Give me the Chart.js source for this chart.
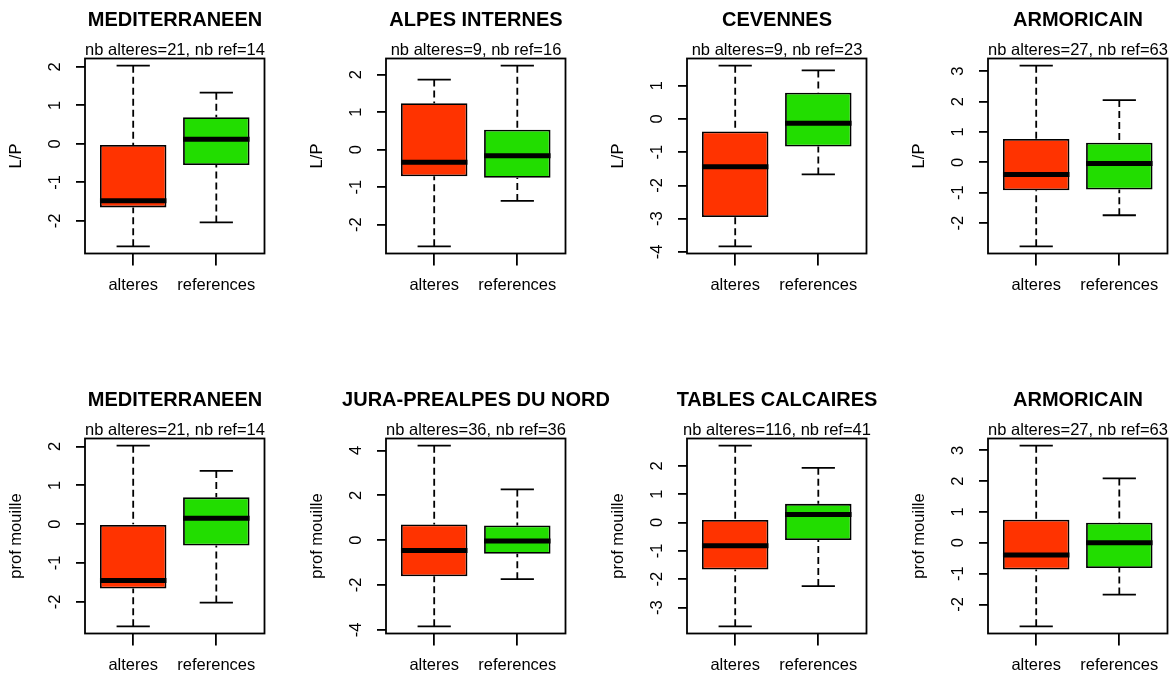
<!DOCTYPE html>
<html>
<head>
<meta charset="utf-8">
<script src="https://cdn.jsdelivr.net/npm/chart.js@4.4.0/dist/chart.umd.min.js"></script>
<style>
  body { margin: 0; background: #fff; }
  #wrap { position: relative; width: 1173px; height: 678px; overflow: hidden; background: #fff; }
  #wrap canvas { position: absolute; }
</style>
</head>
<body>
<div id="wrap"></div>
<script>
// groups on the x axis
const categories = ["alteres", "references"];

// one entry per panel, row by row
const titles = ["MEDITERRANEEN", "ALPES INTERNES", "CEVENNES", "ARMORICAIN",
                "MEDITERRANEEN", "JURA-PREALPES DU NORD", "TABLES CALCAIRES", "ARMORICAIN"];
const nbAlteres = [21, 9, 9, 27, 21, 36, 116, 27];
const nbRef = [14, 16, 23, 63, 14, 36, 41, 63];
const yTitles = ["L/P", "L/P", "L/P", "L/P",
                 "prof mouille", "prof mouille", "prof mouille", "prof mouille"];

// box stats (whisker low, Q1, median, Q3, whisker high)
const altLow  = [-2.66, -2.58, -3.83, -2.76, -2.63, -3.84, -3.66, -2.71];
const altQ1   = [-1.65, -0.71, -2.95, -0.92, -1.66, -1.61, -1.66, -0.87];
const altMed  = [-1.48, -0.34, -1.44, -0.40, -1.45, -0.46, -0.82, -0.40];
const altQ3   = [-0.03,  1.24, -0.38,  0.77,  0.00,  0.70,  0.09,  0.75];
const altHigh = [ 2.03,  1.87,  1.60,  3.18,  2.02,  4.21,  2.71,  3.15];

const refLow  = [-2.04, -1.37, -1.67, -1.74, -2.02, -1.74, -2.24, -1.68];
const refQ1   = [-0.55, -0.75, -0.83, -0.89, -0.55, -0.61, -0.62, -0.82];
const refMed  = [ 0.12, -0.16, -0.13, -0.04,  0.15, -0.04,  0.28,  0.00];
const refQ3   = [ 0.69,  0.53,  0.79,  0.65,  0.69,  0.65,  0.66,  0.65];
const refHigh = [ 1.33,  2.24,  1.46,  2.05,  1.37,  2.26,  1.93,  2.09];

// y tick labels per panel
const yTicks = [
  [-2, -1, 0, 1, 2],
  [-2, -1, 0, 1, 2],
  [-4, -3, -2, -1, 0, 1],
  [-2, -1, 0, 1, 2, 3],
  [-2, -1, 0, 1, 2],
  [-4, -2, 0, 2, 4],
  [-3, -2, -1, 0, 1, 2],
  [-2, -1, 0, 1, 2, 3]
];

const boxColors = ["#ff3300", "#22dd00"];
const colLeft = [0, 301, 602, 903];
const rowTop = [0, 380];

Chart.defaults.font.family = "'Liberation Sans', Arial, sans-serif";
Chart.defaults.color = "#000";

// whiskers, staples, medians and the frame, all placed through the chart scales
const boxExtras = {
  id: "boxExtras",
  beforeDatasetsDraw(chart, args, opts) {
    const ctx = chart.ctx;
    const xs = chart.scales.x, ys = chart.scales.y;
    const bars = chart.getDatasetMeta(0).data;
    ctx.save();
    ctx.strokeStyle = "#000";
    ctx.lineWidth = 1.8;
    bars.forEach((bar, i) => {
      const cx = xs.getPixelForValue(i + 1);
      const cap = bar.width / 4;
      const yLow = ys.getPixelForValue(opts.low[i]);
      const yHigh = ys.getPixelForValue(opts.high[i]);
      const yQ1 = ys.getPixelForValue(opts.q1[i]);
      const yQ3 = ys.getPixelForValue(opts.q3[i]);
      ctx.setLineDash([7, 4]);
      ctx.beginPath();
      ctx.moveTo(cx, yHigh); ctx.lineTo(cx, yQ3);
      ctx.moveTo(cx, yLow); ctx.lineTo(cx, yQ1);
      ctx.stroke();
      ctx.setLineDash([]);
      ctx.beginPath();
      ctx.moveTo(cx - cap, yHigh); ctx.lineTo(cx + cap, yHigh);
      ctx.moveTo(cx - cap, yLow); ctx.lineTo(cx + cap, yLow);
      ctx.stroke();
    });
    ctx.restore();
  },
  afterDatasetsDraw(chart, args, opts) {
    const ctx = chart.ctx;
    const xs = chart.scales.x, ys = chart.scales.y;
    const bars = chart.getDatasetMeta(0).data;
    const area = chart.chartArea;
    ctx.save();
    ctx.strokeStyle = "#000";
    ctx.lineWidth = 5;
    bars.forEach((bar, i) => {
      const cx = xs.getPixelForValue(i + 1);
      const ym = ys.getPixelForValue(opts.med[i]);
      ctx.beginPath();
      ctx.moveTo(cx - bar.width / 2, ym);
      ctx.lineTo(cx + bar.width / 2, ym);
      ctx.stroke();
    });
    ctx.lineWidth = 1.8;
    ctx.strokeRect(area.left, area.top, area.right - area.left, area.bottom - area.top);
    ctx.restore();
  }
};

const wrap = document.getElementById("wrap");

for (let p = 0; p < 8; p++) {
  const canvas = document.createElement("canvas");
  canvas.width = 350;
  canvas.height = 298;
  canvas.style.left = colLeft[p % 4] + "px";
  canvas.style.top = rowTop[Math.floor(p / 4)] + "px";
  wrap.appendChild(canvas);

  const lo = Math.min(altLow[p], refLow[p]);
  const hi = Math.max(altHigh[p], refHigh[p]);
  const ext = (hi - lo) * 0.04;

  new Chart(canvas, {
    type: "bar",
    data: {
      datasets: [{
        data: [
          { x: 1, y: [altQ1[p], altQ3[p]] },
          { x: 2, y: [refQ1[p], refQ3[p]] }
        ],
        backgroundColor: boxColors,
        borderColor: "#000",
        borderWidth: 1.8,
        borderSkipped: false,
        categoryPercentage: 1,
        barPercentage: 0.8
      }]
    },
    options: {
      responsive: false,
      animation: false,
      layout: { padding: 0 },
      plugins: {
        legend: { display: false },
        tooltip: { enabled: false },
        title: {
          display: true,
          text: titles[p],
          font: { size: 20, weight: "bold", lineHeight: 1.2 },
          padding: { top: 8, bottom: 0 }
        },
        subtitle: {
          display: true,
          text: "nb alteres=" + nbAlteres[p] + ", nb ref=" + nbRef[p],
          font: { size: 16.5, lineHeight: 1 },
          padding: { top: 10, bottom: 0 }
        },
        boxExtras: {
          low: [altLow[p], refLow[p]],
          q1: [altQ1[p], refQ1[p]],
          med: [altMed[p], refMed[p]],
          q3: [altQ3[p], refQ3[p]],
          high: [altHigh[p], refHigh[p]]
        }
      },
      scales: {
        x: {
          type: "linear",
          min: 0.42,
          max: 2.58,
          offset: false,
          afterBuildTicks: (axis) => { axis.ticks = categories.map((c, i) => ({ value: i + 1 })); },
          afterFit: (axis) => { axis.height = 44.5; },
          ticks: {
            font: { size: 16.5 },
            padding: 10,
            maxRotation: 0,
            autoSkip: false,
            callback: (v) => categories[v - 1]
          },
          grid: { offset: false, drawOnChartArea: false, drawTicks: true, tickLength: 12, color: "#000", lineWidth: 1.8 },
          border: { display: false }
        },
        y: {
          min: lo - ext,
          max: hi + ext,
          afterBuildTicks: (axis) => { axis.ticks = yTicks[p].map(v => ({ value: v })); },
          afterFit: (axis) => { axis.width = 85; },
          ticks: {
            font: { size: 16.5 },
            minRotation: 90,
            maxRotation: 90,
            crossAlign: "center",
            padding: 13.5,
            callback: (v) => String(v)
          },
          grid: { drawOnChartArea: false, drawTicks: true, tickLength: 9, color: "#000", lineWidth: 1.8 },
          border: { display: false },
          title: {
            display: true,
            text: yTitles[p],
            font: { size: 16.5, lineHeight: 1.2 },
            padding: { top: 7, bottom: 0 }
          }
        },
        // empty right-hand band so the full-width title stays centred on the plot
        yRight: {
          position: "right",
          display: true,
          afterFit: (axis) => { axis.width = 85.5; },
          ticks: { display: false },
          grid: { display: false },
          border: { display: false }
        }
      }
    },
    plugins: [boxExtras]
  });
}
</script>
</body>
</html>
